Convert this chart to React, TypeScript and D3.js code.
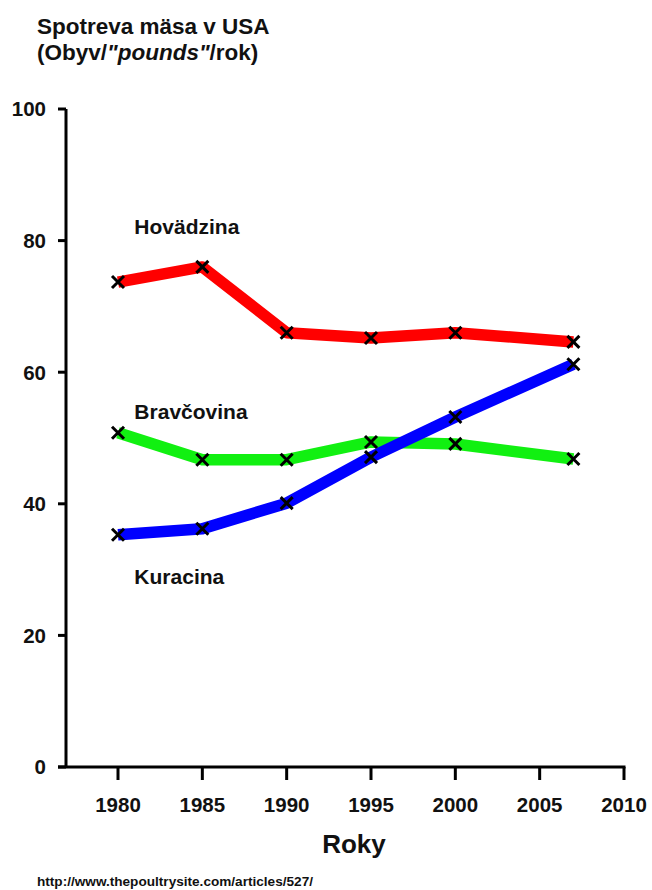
import React from "react";
import * as d3 from "d3";

const years = [1980, 1985, 1990, 1995, 2000, 2007];
const beef = [73.7, 76.0, 66.0, 65.2, 66.0, 64.6];
const pork = [50.8, 46.7, 46.7, 49.4, 49.1, 46.8];
const chicken = [35.3, 36.2, 40.1, 47.1, 53.2, 61.2];
const xTicks = [1980, 1985, 1990, 1995, 2000, 2005, 2010];
const yTicks = [0, 20, 40, 60, 80, 100];

const seriesList = [
  { name: "Hovädzina", values: beef, color: "#ff0000", labelYear: 1981, labelValue: 82.2 },
  { name: "Bravčovina", values: pork, color: "#11f011", labelYear: 1981, labelValue: 54.1 },
  { name: "Kuracina", values: chicken, color: "#0000ff", labelYear: 1981, labelValue: 28.9 },
];

const W = 652;
const H = 890;
const FONT = "Arial, 'Liberation Sans', sans-serif";

export default function App() {
  const x = d3.scaleLinear().domain([1980, 2010]).range([118, 624]);
  const y = d3.scaleLinear().domain([0, 100]).range([767, 109]);
  const line = d3
    .line<number>()
    .x((_, i) => x(years[i]))
    .y((d) => y(d));
  const axisX0 = 66;
  const m = 6;

  return (
    <svg
      width={W}
      height={H}
      style={{ position: "absolute", left: 0, top: 0, background: "#fff" }}
      fontFamily={FONT}
    >
      <rect width={W} height={H} fill="#fff" />
      <text x={37} y={34} fontSize={22.5} fontWeight="bold" fill="#111">
        Spotreva mäsa v USA
      </text>
      <text x={37} y={60} fontSize={22.5} fontWeight="bold" fill="#111">
        (Obyv/<tspan fontStyle="italic">"pounds"</tspan>/rok)
      </text>

      {/* axes */}
      <line x1={axisX0} x2={axisX0} y1={y(100)} y2={y(0)} stroke="#000" strokeWidth={3} />
      <line x1={58} x2={x(2010) + 1.5} y1={y(0)} y2={y(0)} stroke="#000" strokeWidth={3} />
      {yTicks.map((t) => (
        <g key={"y" + t}>
          <line x1={58} x2={axisX0} y1={y(t)} y2={y(t)} stroke="#000" strokeWidth={3} />
          <text
            x={46}
            y={y(t)}
            dy="0.36em"
            textAnchor="end"
            fontSize={20.5}
            fontWeight="bold"
            fill="#111"
          >
            {t}
          </text>
        </g>
      ))}
      {xTicks.map((t) => (
        <g key={"x" + t}>
          <line x1={x(t)} x2={x(t)} y1={y(0)} y2={y(0) + 13} stroke="#000" strokeWidth={3} />
          <text
            x={x(t)}
            y={812}
            textAnchor="middle"
            fontSize={20.5}
            fontWeight="bold"
            fill="#111"
          >
            {t}
          </text>
        </g>
      ))}
      <text x={354} y={853} textAnchor="middle" fontSize={26} fontWeight="bold" fill="#111">
        Roky
      </text>
      <text x={37} y={886} fontSize={13.6} fontWeight="bold" fill="#111">
        http://www.thepoultrysite.com/articles/527/
      </text>

      {/* series */}
      {seriesList.map((s) => (
        <g key={s.name}>
          <path
            d={line(s.values) || ""}
            fill="none"
            stroke={s.color}
            strokeWidth={11.5}
            strokeLinejoin="round"
          />
        </g>
      ))}
      {seriesList.map((s) => (
        <g key={s.name + "m"}>
          {s.values.map((v, i) => (
            <path
              key={i}
              d={`M${x(years[i]) - m},${y(v) - m}L${x(years[i]) + m},${y(v) + m}M${x(years[i]) - m},${y(v) + m}L${x(years[i]) + m},${y(v) - m}`}
              stroke="#000"
              strokeWidth={3}
            />
          ))}
          <text
            x={x(s.labelYear) - 0.5}
            y={y(s.labelValue)}
            dy="0.36em"
            fontSize={21}
            fontWeight="bold"
            fill="#111"
          >
            {s.name}
          </text>
        </g>
      ))}
    </svg>
  );
}
